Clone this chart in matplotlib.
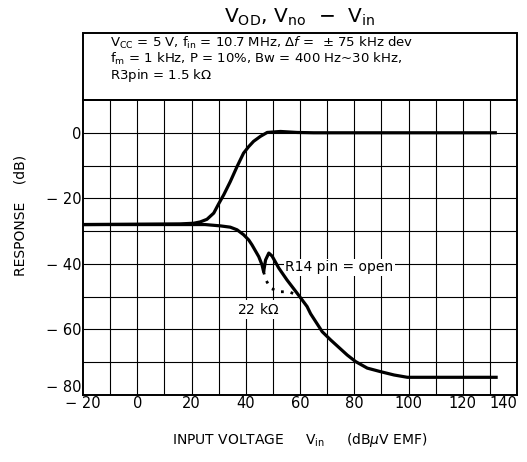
import matplotlib
matplotlib.use("Agg")
import matplotlib.pyplot as plt
from matplotlib.patches import Rectangle

plt.rcParams['font.family'] = ['DejaVu Sans']
plt.rcParams['mathtext.fontset'] = 'dejavusans'

# V_OD curve (dB) vs input voltage (dBuV EMF)
vod_x = [-20, 15.8, 20.8, 23.2, 25.7, 28.2, 30.0, 31.9, 34.3, 36.8, 39.2, 41.1, 42.9, 45.4,
         47.9, 52.8, 58.9, 65, 132]
vod_y = [-28, -27.8, -27.6, -27.2, -26.4, -24.5, -21.7, -18.9, -14.9, -10.3, -6.2, -4.2,
         -2.6, -1.1, 0.1, 0.4, 0.1, 0, 0]

# V_no curve, R14 pin = open
vno_x = [-20, 25, 30.6, 34.3, 36.8, 39.2, 41.1, 42.3, 44.8, 46.0, 46.6, 47.3, 48.5, 49.7,
         52.2, 55.2, 58.9, 62.6, 63.9, 68.2, 71.3, 77.4, 80.5, 84.8, 89.8, 94.7, 99.6, 132.3]
vno_y = [-28, -28, -28.4, -28.8, -29.6, -31.1, -32.7, -34.2, -37.8, -40.3, -42.4, -38.8,
         -36.7, -37.6, -41.3, -44.9, -48.9, -53, -55.2, -60.7, -63.2, -67.8, -69.8, -71.8,
         -72.9, -73.9, -74.6, -74.6]

# V_no branch, R14 = 22 kOhm (dotted)
r22_x = [46.6, 47.3, 49.1, 52.2, 55.9, 58.9]
r22_y = [-42.4, -44.7, -47.4, -48.5, -48.5, -49.5]

xticks = [-20, 0, 20, 40, 60, 80, 100, 120, 140]
xtick_labels = ['− 20', '0', '20', '40', '60', '80', '100', '120', '140']
yticks = [-80, -60, -40, -20, 0]
ytick_labels = ['− 80', '− 60', '− 40', '− 20', '0']

fig = plt.figure(figsize=(5.27, 4.62), dpi=100)
ax = fig.add_axes([83/527, 1 - 395/462, 434/527, 295/462])

ax.set_xlim(-20, 140)
ax.set_ylim(-80, 10)

for gx in range(-10, 140, 10):
    ax.axvline(gx, color='black', lw=0.8, zorder=1)
for gy in range(-70, 10, 10):
    ax.axhline(gy, color='black', lw=0.8, zorder=1)

ax.plot(vod_x, vod_y, color='black', lw=2.3, zorder=3, solid_joinstyle='round')
ax.plot(vno_x, vno_y, color='black', lw=2.3, zorder=3, solid_joinstyle='round')

ax.text(44.5, -54, '22 k$\\Omega$', fontsize=10, ha='center', va='center', zorder=2,
        bbox=dict(facecolor='white', edgecolor='none', pad=1.5))
ax.plot(r22_x, r22_y, color='black', lw=2.0, ls=(0, (1, 2.5)), zorder=3)
ax.text(54.5, -41, 'R14 pin = open', fontsize=10, ha='left', va='center', zorder=2,
        bbox=dict(facecolor='white', edgecolor='none', pad=1))

ax.set_xticks(xticks)
ax.set_xticklabels(xtick_labels)
ax.get_xticklabels()[-1].set_ha('right')
ax.set_yticks(yticks)
ax.set_yticklabels(ytick_labels)
ax.get_yticklabels()[0].set_va('bottom')
ax.tick_params(length=0, labelsize=10.5, pad=1)
for s in ax.spines.values():
    s.set_linewidth(1.4)

# condition box above the plot area
fig.patches.append(Rectangle((83/527, 1 - 100/462), 434/527, 67/462,
                             transform=fig.transFigure, fill=False,
                             edgecolor='black', lw=1.4))
cond = ['V$_{\\mathregular{CC}}$ = 5 V, f$_{\\mathregular{in}}$ = 10.7 MHz, $\\mathit{\\Delta f}$ =  ± 75 kHz dev',
        'f$_{\\mathregular{m}}$ = 1 kHz, P = 10%, Bw = 400 Hz~30 kHz,',
        'R3pin = 1.5 k$\\Omega$']
for i, line in enumerate(cond):
    fig.text(110/527, 1 - (43 + 16*i)/462, line, fontsize=9.5, ha='left', va='center')

fig.text(300/527, 1 - 17/462,
         'V$_{\\mathregular{OD}}$, V$_{\\mathregular{no}}$  −  V$_{\\mathregular{in}}$',
         fontsize=14.5, ha='center', va='center')
fig.text(21/527, 1 - 215/462, 'RESPONSE    (dB)', fontsize=10, rotation=90,
         ha='center', va='center')
fig.text(300/527, 1 - 440/462, 'INPUT VOLTAGE     V$_{\\mathregular{in}}$     (dB$\\mu$V EMF)',
         fontsize=10, ha='center', va='center')

fig.savefig('out.png', dpi=100)
